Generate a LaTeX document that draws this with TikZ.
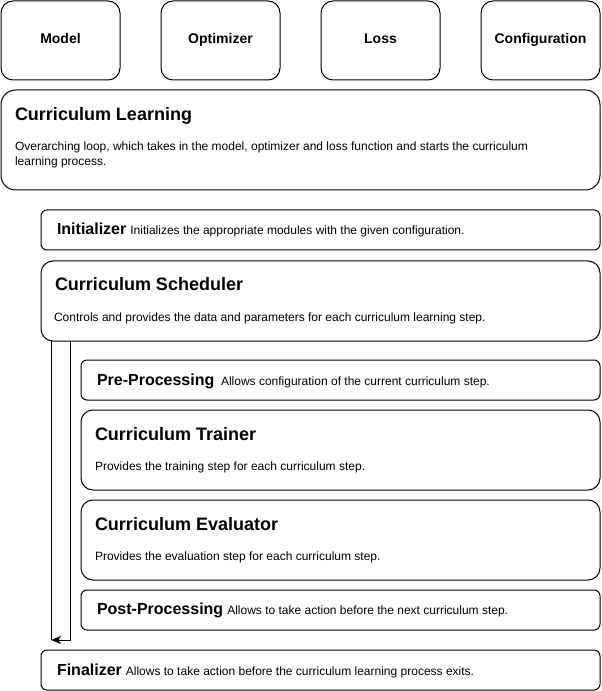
\documentclass[tikz,border=0pt]{standalone}
\usepackage{fontspec}
\setmainfont{Liberation Sans}
\usetikzlibrary{fit,arrows.meta}

% font sizes (drawio pixel sizes at 0.75pt per px)
\newcommand{\bigtitle}{\fontsize{13.5}{16}\selectfont\bfseries}
\newcommand{\midtitle}{\fontsize{12}{14}\selectfont\bfseries}
\newcommand{\toptitle}{\fontsize{10.5}{12}\selectfont\bfseries}
\newcommand{\desc}{\fontsize{9}{11.25}\selectfont\mdseries}

\begin{document}
\begin{tikzpicture}[x=0.75pt,y=-0.75pt,
  line width=0.75pt,
  box/.style={draw=black, fill=white, inner sep=0pt, rounded corners=#1},
  box/.default=9pt,
  txt/.style={anchor=base west, inner sep=0pt, outer sep=0pt},
  ctxt/.style={anchor=base, inner sep=0pt, outer sep=0pt}
]
\useasboundingbox (0,0) rectangle (601,691);

% input boxes
\node[box, fit={(1,1) (120,80)}] (model) {};
\node[box, fit={(161,1) (280,80)}] (optim) {};
\node[box, fit={(321,1) (440,80)}] (loss) {};
\node[box, fit={(481,1) (600,80)}] (config) {};
\node[ctxt] (modelT) at (60.5,44) {\toptitle Model};
\node[ctxt] (optimT) at (220.5,44) {\toptitle Optimizer};
\node[ctxt] (lossT) at (380.5,44) {\toptitle Loss};
\node[ctxt] (configT) at (540.5,44) {\toptitle Configuration};

% overarching loop
\node[box=11pt, fit={(1,90) (600,190)}] (cl) {};
\node[txt] (clT) at (15,121) {\bigtitle Curriculum Learning};
\node[txt] (clD) at (15,151) {\desc Overarching loop, which takes in the model, optimizer and loss function and starts the curriculum};
\node[txt] (clD2) at (15,166) {\desc learning process.};

% initializer
\node[box=4.5pt, fit={(41,210) (600,250)}] (init) {};
\node[txt] (initT) at (57,235) {\midtitle Initializer\hspace{3pt}\desc Initializes the appropriate modules with the given configuration.};

% scheduler
\node[box, fit={(41,261) (600,341)}] (sched) {};
\node[txt] (schedT) at (55,290) {\bigtitle Curriculum Scheduler};
\node[txt] (schedD) at (54,321) {\desc Controls and provides the data and parameters for each curriculum learning step.};

% steps inside the scheduler
\node[box=4.5pt, fit={(81,360) (600,400)}] (pre) {};
\node[txt] (preT) at (97,385) {\midtitle Pre-Processing\hspace{5pt}\desc Allows configuration of the current curriculum step.};

\node[box, fit={(81,410) (600,490)}] (train) {};
\node[txt] (trainT) at (95,440) {\bigtitle Curriculum Trainer};
\node[txt] (trainD) at (95,470) {\desc Provides the training step for each curriculum step.};

\node[box, fit={(81,500) (600,580)}] (eval) {};
\node[txt] (evalT) at (95,530) {\bigtitle Curriculum Evaluator};
\node[txt] (evalD) at (95,560) {\desc Provides the evaluation step for each curriculum step.};

\node[box=4.5pt, fit={(81,590) (600,630)}] (post) {};
\node[txt] (postT) at (97,614) {\midtitle Post-Processing\hspace{3pt}\desc Allows to take action before the next curriculum step.};

% finalizer
\node[box=4.5pt, fit={(41,650) (600,690)}] (final) {};
\node[txt] (finalT) at (57,675) {\midtitle Finalizer\hspace{3pt}\desc Allows to take action before the curriculum learning process exits.};

% loop connector of the scheduler
\coordinate (loopR) at (70,341);
\coordinate (loopL) at (51,341);
\coordinate (loopEnd) at (51,640);
\draw (loopL) -- (loopEnd);
\draw[-{Stealth[length=7.5pt,width=6pt,inset=2pt]}] (loopR) |- (loopEnd);
\end{tikzpicture}
\end{document}
